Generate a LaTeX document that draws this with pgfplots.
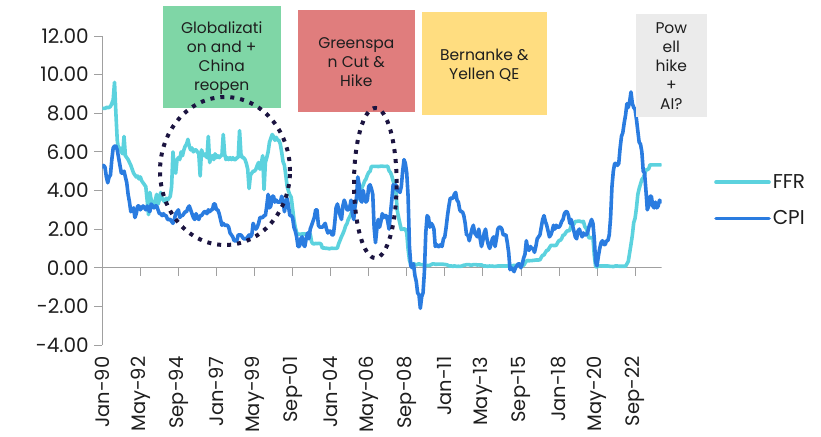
\documentclass[border=0pt]{standalone}
\usepackage{pgfplots}
\usepackage{pgfplotstable}
\pgfplotsset{compat=1.18}
\usepackage{fontspec}
\setmainfont{Poppins}
\definecolor{ffr}{RGB}{92,210,222}
\definecolor{cpi}{RGB}{42,124,224}
\definecolor{gbox}{RGB}{127,214,166}
\definecolor{rbox}{RGB}{224,125,125}
\definecolor{ybox}{RGB}{255,221,128}
\definecolor{kbox}{RGB}{235,235,235}
\definecolor{ell}{RGB}{27,20,64}
\definecolor{axgray}{RGB}{160,160,160}
\definecolor{txt}{RGB}{30,30,30}

\pgfplotstableread[row sep=\\]{
v\\
5.2\\ 5.3\\ 5.2\\ 4.7\\ 4.4\\ 4.7\\ 4.8\\ 5.6\\ 6.2\\ 6.3\\ 6.3\\ 6.1\\
5.7\\ 5.3\\ 4.9\\ 4.9\\ 5.0\\ 4.7\\ 4.4\\ 3.8\\ 3.4\\ 2.9\\ 3.0\\ 3.1\\
2.6\\ 2.8\\ 3.2\\ 3.2\\ 3.0\\ 3.1\\ 3.2\\ 3.1\\ 3.0\\ 3.2\\ 3.0\\ 2.9\\
3.3\\ 3.2\\ 3.1\\ 3.2\\ 3.2\\ 3.0\\ 2.8\\ 2.8\\ 2.7\\ 2.8\\ 2.7\\ 2.7\\
2.5\\ 2.5\\ 2.5\\ 2.4\\ 2.3\\ 2.5\\ 2.8\\ 2.9\\ 3.0\\ 2.6\\ 2.7\\ 2.7\\
2.8\\ 2.9\\ 2.9\\ 3.1\\ 3.2\\ 3.0\\ 2.8\\ 2.6\\ 2.5\\ 2.8\\ 2.6\\ 2.5\\
2.7\\ 2.7\\ 2.8\\ 2.9\\ 2.9\\ 2.8\\ 3.0\\ 2.9\\ 3.0\\ 3.0\\ 3.3\\ 3.3\\
3.0\\ 3.0\\ 2.8\\ 2.5\\ 2.2\\ 2.3\\ 2.2\\ 2.2\\ 2.2\\ 2.1\\ 1.8\\ 1.7\\
1.6\\ 1.4\\ 1.4\\ 1.4\\ 1.7\\ 1.7\\ 1.7\\ 1.6\\ 1.5\\ 1.5\\ 1.5\\ 1.6\\
1.7\\ 1.6\\ 1.7\\ 2.3\\ 2.1\\ 2.0\\ 2.1\\ 2.3\\ 2.6\\ 2.6\\ 2.6\\ 2.7\\
2.7\\ 3.2\\ 3.8\\ 3.1\\ 3.2\\ 3.7\\ 3.7\\ 3.4\\ 3.5\\ 3.4\\ 3.4\\ 3.4\\
3.7\\ 3.5\\ 2.9\\ 3.3\\ 3.6\\ 3.2\\ 2.7\\ 2.7\\ 2.6\\ 2.1\\ 1.9\\ 1.6\\
1.1\\ 1.1\\ 1.5\\ 1.6\\ 1.2\\ 1.1\\ 1.5\\ 1.8\\ 1.5\\ 2.0\\ 2.2\\ 2.4\\
2.6\\ 3.0\\ 3.0\\ 2.2\\ 2.1\\ 2.1\\ 2.1\\ 2.2\\ 2.3\\ 2.0\\ 1.8\\ 1.9\\
1.9\\ 1.7\\ 1.7\\ 2.3\\ 3.1\\ 3.3\\ 3.0\\ 2.7\\ 2.5\\ 3.2\\ 3.5\\ 3.3\\
3.0\\ 3.0\\ 3.1\\ 3.5\\ 2.8\\ 2.5\\ 3.2\\ 3.6\\ 4.7\\ 4.3\\ 3.5\\ 3.4\\
4.0\\ 3.6\\ 3.4\\ 3.5\\ 4.2\\ 4.3\\ 4.1\\ 3.8\\ 2.1\\ 1.3\\ 2.0\\ 2.5\\
2.1\\ 2.4\\ 2.8\\ 2.6\\ 2.7\\ 2.7\\ 2.4\\ 2.0\\ 2.8\\ 3.5\\ 4.3\\ 4.1\\
4.3\\ 4.0\\ 4.0\\ 3.9\\ 4.2\\ 5.0\\ 5.6\\ 5.4\\ 4.9\\ 3.7\\ 1.1\\ 0.1\\
0.0\\ 0.2\\ -0.4\\ -0.7\\ -1.3\\ -1.4\\ -2.1\\ -1.5\\ -1.3\\ -0.2\\ 1.8\\ 2.7\\
2.6\\ 2.1\\ 2.3\\ 2.2\\ 2.0\\ 1.1\\ 1.2\\ 1.1\\ 1.1\\ 1.2\\ 1.1\\ 1.5\\
1.6\\ 2.1\\ 2.7\\ 3.2\\ 3.6\\ 3.6\\ 3.6\\ 3.8\\ 3.9\\ 3.5\\ 3.4\\ 3.0\\
2.9\\ 2.9\\ 2.7\\ 2.3\\ 1.7\\ 1.7\\ 1.4\\ 1.7\\ 2.0\\ 2.2\\ 1.8\\ 1.7\\
1.6\\ 2.0\\ 1.5\\ 1.1\\ 1.4\\ 1.8\\ 2.0\\ 1.5\\ 1.2\\ 1.0\\ 1.2\\ 1.5\\
1.6\\ 1.1\\ 1.5\\ 2.0\\ 2.1\\ 2.1\\ 2.0\\ 1.7\\ 1.7\\ 1.7\\ 1.3\\ 0.8\\
-0.1\\ 0.0\\ -0.1\\ -0.2\\ 0.0\\ 0.1\\ 0.2\\ 0.2\\ 0.0\\ 0.2\\ 0.5\\ 0.7\\
1.4\\ 1.0\\ 0.9\\ 1.1\\ 1.0\\ 1.0\\ 0.8\\ 1.1\\ 1.5\\ 1.6\\ 1.7\\ 2.1\\
2.5\\ 2.7\\ 2.4\\ 2.2\\ 1.9\\ 1.6\\ 1.7\\ 1.9\\ 2.2\\ 2.0\\ 2.2\\ 2.1\\
2.1\\ 2.2\\ 2.4\\ 2.5\\ 2.8\\ 2.9\\ 2.9\\ 2.7\\ 2.3\\ 2.5\\ 2.2\\ 1.9\\
1.6\\ 1.5\\ 1.9\\ 2.0\\ 1.8\\ 1.6\\ 1.8\\ 1.7\\ 1.7\\ 1.8\\ 2.1\\ 2.3\\
2.5\\ 2.3\\ 1.5\\ 0.3\\ 0.1\\ 0.6\\ 1.0\\ 1.3\\ 1.4\\ 1.2\\ 1.2\\ 1.4\\
1.4\\ 1.7\\ 2.6\\ 4.2\\ 5.0\\ 5.4\\ 5.4\\ 5.3\\ 5.4\\ 6.2\\ 6.8\\ 7.0\\
7.5\\ 7.9\\ 8.5\\ 8.3\\ 8.6\\ 9.1\\ 8.5\\ 8.3\\ 8.2\\ 7.7\\ 7.1\\ 6.5\\
6.4\\ 6.0\\ 5.0\\ 4.9\\ 4.0\\ 3.0\\ 3.2\\ 3.7\\ 3.7\\ 3.2\\ 3.1\\ 3.4\\
3.1\\ 3.2\\ 3.5\\ 3.4\\
}\cpidata

\pgfplotstableread[row sep=\\]{
v\\
8.25\\ 8.25\\ 8.25\\ 8.3\\ 8.3\\ 8.3\\ 8.35\\ 8.5\\ 8.7\\ 9.6\\ 8.0\\ 6.6\\
6.1\\ 6.2\\ 6.0\\ 5.9\\ 6.8\\ 5.8\\ 5.7\\ 5.6\\ 5.45\\ 5.3\\ 5.1\\ 4.9\\
4.8\\ 4.7\\ 4.75\\ 4.6\\ 4.7\\ 4.5\\ 4.4\\ 4.3\\ 4.2\\ 3.5\\ 2.75\\ 3.9\\
3.5\\ 3.4\\ 3.3\\ 3.5\\ 3.8\\ 3.3\\ 3.5\\ 3.9\\ 3.6\\ 3.5\\ 3.4\\ 3.6\\
3.5\\ 3.6\\ 3.7\\ 4.2\\ 6.0\\ 5.0\\ 4.9\\ 5.6\\ 5.7\\ 5.6\\ 6.0\\ 5.8\\
6.1\\ 6.3\\ 6.4\\ 6.65\\ 6.3\\ 6.1\\ 6.2\\ 6.0\\ 6.1\\ 6.1\\ 6.0\\ 5.9\\
4.75\\ 6.1\\ 5.9\\ 5.8\\ 5.9\\ 5.7\\ 6.8\\ 5.45\\ 5.7\\ 5.8\\ 5.6\\ 5.9\\
5.7\\ 5.8\\ 5.7\\ 5.8\\ 5.8\\ 6.9\\ 5.9\\ 5.6\\ 5.7\\ 5.6\\ 5.7\\ 5.6\\
5.7\\ 5.6\\ 5.6\\ 5.7\\ 5.7\\ 7.1\\ 5.9\\ 5.7\\ 5.7\\ 5.6\\ 5.4\\ 5.1\\
4.1\\ 4.8\\ 4.9\\ 5.0\\ 5.0\\ 5.1\\ 5.3\\ 5.45\\ 5.1\\ 5.4\\ 5.8\\ 4.05\\
5.45\\ 5.7\\ 6.0\\ 6.5\\ 6.7\\ 6.9\\ 6.8\\ 6.6\\ 6.75\\ 6.6\\ 6.6\\ 6.4\\
5.98\\ 5.49\\ 5.31\\ 4.80\\ 4.21\\ 3.97\\ 3.77\\ 3.65\\ 3.07\\ 2.49\\ 2.09\\ 1.82\\
1.73\\ 1.74\\ 1.73\\ 1.75\\ 1.75\\ 1.75\\ 1.73\\ 1.74\\ 1.75\\ 1.75\\ 1.34\\ 1.24\\
1.24\\ 1.26\\ 1.25\\ 1.26\\ 1.26\\ 1.22\\ 1.01\\ 1.03\\ 1.01\\ 1.01\\ 1.00\\ 0.98\\
1.00\\ 1.01\\ 1.00\\ 1.00\\ 1.00\\ 1.03\\ 1.26\\ 1.43\\ 1.61\\ 1.76\\ 1.93\\ 2.16\\
2.28\\ 2.50\\ 2.63\\ 2.79\\ 3.00\\ 3.04\\ 3.26\\ 3.50\\ 3.62\\ 3.78\\ 4.00\\ 4.16\\
4.29\\ 4.49\\ 4.59\\ 4.79\\ 4.94\\ 4.99\\ 5.24\\ 5.25\\ 5.25\\ 5.25\\ 5.25\\ 5.24\\
5.25\\ 5.26\\ 5.26\\ 5.25\\ 5.25\\ 5.25\\ 5.26\\ 5.02\\ 4.94\\ 4.76\\ 4.49\\ 4.24\\
3.94\\ 2.98\\ 2.61\\ 2.28\\ 1.98\\ 2.00\\ 2.01\\ 2.00\\ 1.81\\ 0.97\\ 0.39\\ 0.16\\
0.15\\ 0.22\\ 0.18\\ 0.15\\ 0.18\\ 0.21\\ 0.16\\ 0.16\\ 0.15\\ 0.12\\ 0.12\\ 0.12\\
0.11\\ 0.13\\ 0.16\\ 0.20\\ 0.20\\ 0.18\\ 0.18\\ 0.19\\ 0.19\\ 0.19\\ 0.19\\ 0.18\\
0.17\\ 0.16\\ 0.14\\ 0.10\\ 0.09\\ 0.09\\ 0.07\\ 0.10\\ 0.08\\ 0.07\\ 0.08\\ 0.07\\
0.08\\ 0.10\\ 0.13\\ 0.14\\ 0.16\\ 0.16\\ 0.16\\ 0.13\\ 0.14\\ 0.16\\ 0.16\\ 0.16\\
0.14\\ 0.15\\ 0.14\\ 0.15\\ 0.11\\ 0.09\\ 0.09\\ 0.08\\ 0.08\\ 0.09\\ 0.08\\ 0.09\\
0.07\\ 0.07\\ 0.08\\ 0.09\\ 0.09\\ 0.10\\ 0.09\\ 0.09\\ 0.09\\ 0.09\\ 0.09\\ 0.12\\
0.11\\ 0.11\\ 0.11\\ 0.12\\ 0.12\\ 0.13\\ 0.13\\ 0.14\\ 0.14\\ 0.12\\ 0.12\\ 0.24\\
0.34\\ 0.38\\ 0.36\\ 0.37\\ 0.37\\ 0.38\\ 0.39\\ 0.40\\ 0.40\\ 0.40\\ 0.41\\ 0.54\\
0.65\\ 0.66\\ 0.79\\ 0.90\\ 0.91\\ 1.04\\ 1.15\\ 1.16\\ 1.15\\ 1.15\\ 1.16\\ 1.30\\
1.41\\ 1.42\\ 1.51\\ 1.69\\ 1.70\\ 1.82\\ 1.91\\ 1.91\\ 1.95\\ 2.19\\ 2.20\\ 2.27\\
2.40\\ 2.40\\ 2.41\\ 2.42\\ 2.39\\ 2.38\\ 2.40\\ 2.13\\ 2.04\\ 1.83\\ 1.55\\ 1.55\\
1.55\\ 1.58\\ 0.65\\ 0.05\\ 0.05\\ 0.08\\ 0.09\\ 0.10\\ 0.09\\ 0.09\\ 0.09\\ 0.09\\
0.09\\ 0.08\\ 0.07\\ 0.07\\ 0.06\\ 0.08\\ 0.10\\ 0.09\\ 0.08\\ 0.08\\ 0.08\\ 0.08\\
0.08\\ 0.08\\ 0.20\\ 0.33\\ 0.77\\ 1.21\\ 1.68\\ 2.33\\ 2.56\\ 3.08\\ 3.78\\ 4.10\\
4.33\\ 4.57\\ 4.65\\ 4.83\\ 5.06\\ 5.08\\ 5.12\\ 5.33\\ 5.33\\ 5.33\\ 5.33\\ 5.33\\
5.33\\ 5.33\\ 5.33\\ 5.33\\
}\ffrdata

\begin{document}
\begin{tikzpicture}
\useasboundingbox (-102.3pt,-91pt) rectangle (718.7pt,345pt);
\begin{axis}[
  at={(0,0)}, anchor=south west,
  scale only axis,
  width=559.4pt, height=309pt,
  xmin=0, xmax=411.6,
  ymin=-4, ymax=12,
  axis y line*=left,
  axis x line*=bottom,
  x axis line style={draw=none},
  y axis line style={draw=axgray, line width=0.8pt},
  tick align=outside,
  major tick length=8pt,
  xtick={0,28,...,392},
  xticklabels={Jan-90,May-92,Sep-94,Jan-97,May-99,Sep-01,Jan-04,May-06,Sep-08,Jan-11,May-13,Sep-15,Jan-18,May-20,Sep-22},
  xtick style={draw=none},
  ytick={-4,-2,...,12},
  yticklabels={-4.00,-2.00,0.00,2.00,4.00,6.00,8.00,10.00,12.00},
  ytick style={draw=axgray, line width=0.8pt},
  yticklabel style={font=\fontsize{20}{24}\selectfont, text=txt, xshift=-2pt},
  xticklabel style={font=\fontsize{19.5}{23}\selectfont, text=txt, rotate=90, anchor=east},
  legend style={at={(611.7pt,144.6pt)}, anchor=west, draw=none, fill=none,
    font=\fontsize{20}{24}\selectfont, text=txt, row sep=17pt, inner sep=0pt,
    nodes={inner xsep=2pt}},
  legend cell align=left,
  legend image code/.code={\draw[#1] (0pt,0pt) -- (53pt,0pt);},
]
\draw[axgray, line width=0.8pt] (axis cs:0,0) -- (axis cs:411.6,0);
\pgfplotsinvokeforeach{28,56,...,392}{\draw[axgray, line width=0.8pt] (axis cs:#1,0) -- (axis cs:#1,-0.42);}
\addplot[ffr, line width=3.6pt, line join=round, line cap=round] table[x expr=\coordindex, y=v] {\ffrdata};
\addlegendentry{FFR}
\addplot[cpi, line width=3.6pt, line join=round, line cap=round] table[x expr=\coordindex, y=v] {\cpidata};
\addlegendentry{CPI}
\end{axis}
% annotation boxes
\fill[gbox] (60.4pt,237pt) rectangle (178.4pt,339pt);
\fill[rbox] (195.4pt,233pt) rectangle (312.7pt,335pt);
\fill[ybox] (319.7pt,230pt) rectangle (444.7pt,333pt);
\fill[kbox] (533.7pt,228pt) rectangle (604.7pt,331pt);
\node[align=center, text=txt, font=\fontsize{15.5}{19}\selectfont] at (119.4pt,287pt) {Globalizati\\on and +\\China\\reopen};
\node[align=center, text=txt, font=\fontsize{15.5}{19}\selectfont] at (254pt,283pt) {Greenspa\\n Cut \&\\Hike};
\node[align=center, text=txt, font=\fontsize{15.5}{19}\selectfont] at (382pt,280pt) {Bernanke \&\\Yellen QE};
\node[align=center, text=txt, font=\fontsize{15.5}{19}\selectfont] at (569pt,278.5pt) {Pow\\ell\\hike\\+\\AI?};
% ellipses
\draw[ell, line width=4pt, dash pattern=on 4pt off 6pt] (122.7pt,174pt) ellipse [x radius=65pt, y radius=74pt];
\draw[ell, line width=4pt, dash pattern=on 4pt off 6pt] (273pt,162pt) ellipse [x radius=21.3pt, y radius=75pt];
\end{tikzpicture}
\end{document}
